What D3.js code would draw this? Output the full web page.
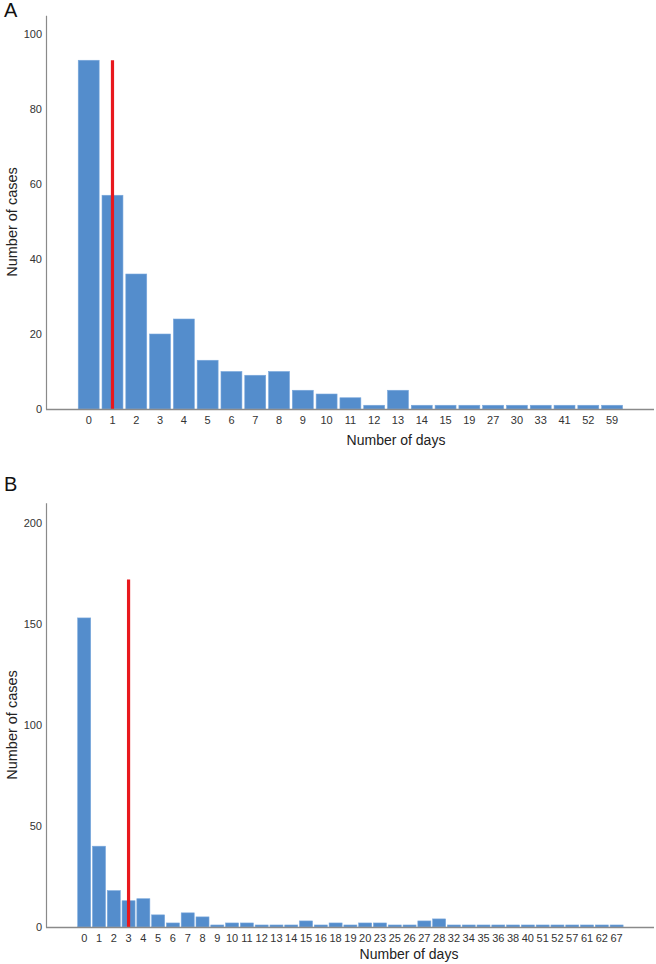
<!DOCTYPE html>
<html><head><meta charset="utf-8">
<script src="https://cdn.jsdelivr.net/npm/d3@7"></script>
<style>body{margin:0;background:#fff;}svg{display:block;font-family:"Liberation Sans",Arial,sans-serif;}</style>
</head><body><svg id="c" width="656" height="964"></svg>
<script>
// Panel A data
const daysA = ["0","1","2","3","4","5","6","7","8","9","10","11","12","13","14","15","19","27","30","33","41","52","59"];
const casesA = [93,57,36,20,24,13,10,9,10,5,4,3,1,5,1,1,1,1,1,1,1,1,1];
const yTicksA = [0,20,40,60,80,100];
const medianA = "1";
const medianTopA = 93;
// Panel B data
const daysB = ["0","1","2","3","4","5","6","7","8","9","10","11","12","13","14","15","16","18","19","20","23","25","26","27","28","32","34","35","36","38","40","51","52","57","61","62","67"];
const casesB = [153,40,18,13,14,6,2,7,5,1,2,2,1,1,1,3,1,2,1,2,2,1,1,3,4,1,1,1,1,1,1,1,1,1,1,1,1];
const yTicksB = [0,50,100,150,200];
const medianB = "3";
const medianTopB = 172;

const svg = d3.select("#c");
const barColor = "#548dcc", redColor = "#e8181d", axisColor = "#8a8a8a";

function panel(o){
  const g = svg.append("g");
  const x = d3.scaleBand().domain(o.days).range([76.8, 624]).paddingInner(o.pad).paddingOuter(o.pad/2);
  const y = d3.scaleLinear().domain([0, o.yMax]).range([o.base, o.top]);
  g.selectAll("rect.bar").data(o.days).join("rect")
    .attr("x", d => x(d)).attr("width", x.bandwidth())
    .attr("y", (d,i) => y(o.vals[i])).attr("height", (d,i) => y(0) - y(o.vals[i]))
    .attr("fill", barColor).attr("stroke", "#7aa8dc").attr("stroke-width", 0.6);
  g.append("line").attr("x1", x(o.med) + x.bandwidth()/2).attr("x2", x(o.med) + x.bandwidth()/2)
    .attr("y1", y(0)).attr("y2", y(o.medTop)).attr("stroke", redColor).attr("stroke-width", 3.2);
  const ya = g.append("g").attr("transform", `translate(46,0)`)
    .call(d3.axisLeft(y).tickValues(o.yTicks).tickSize(0).tickPadding(4));
  ya.select(".domain").attr("stroke", axisColor).attr("stroke-width", 1.2);
  ya.selectAll("text").attr("font-size", 11).attr("fill", "#333").attr("font-family", "Liberation Sans, Arial, sans-serif");
  const xa = g.append("g").attr("transform", `translate(0,${o.base})`)
    .call(d3.axisBottom(x).tickSize(0).tickPadding(7));
  xa.select(".domain").attr("d", "M46,0.5H654").attr("stroke", axisColor).attr("stroke-width", 1.5);
  xa.selectAll("text").attr("font-size", 11).attr("fill", "#333").attr("font-family", "Liberation Sans, Arial, sans-serif");
  g.append("text").attr("x", o.xtx).attr("y", o.base + o.xtOff).attr("text-anchor", "middle")
    .attr("font-size", 14).attr("fill", "#222").text("Number of days");
  g.append("text").attr("transform", `translate(17,${o.ytY}) rotate(-90)`).attr("text-anchor", "middle")
    .attr("font-size", 14.5).attr("fill", "#222").text("Number of cases");
  g.append("text").attr("x", 4).attr("y", o.letterY).attr("font-size", 20).attr("fill", "#111").text(o.letter);
}

panel({days: daysA, vals: casesA, yTicks: yTicksA, med: medianA, medTop: medianTopA,
  yMax: 105, base: 409, top: 15.25, pad: 0.12, xtx: 396, xtOff: 36, ytY: 222, letter: "A", letterY: 17});
panel({days: daysB, vals: casesB, yTicks: yTicksB, med: medianB, medTop: medianTopB,
  yMax: 210, base: 927, top: 502.8, pad: 0.12, xtx: 409, xtOff: 32, ytY: 725, letter: "B", letterY: 491});
</script></body></html>
